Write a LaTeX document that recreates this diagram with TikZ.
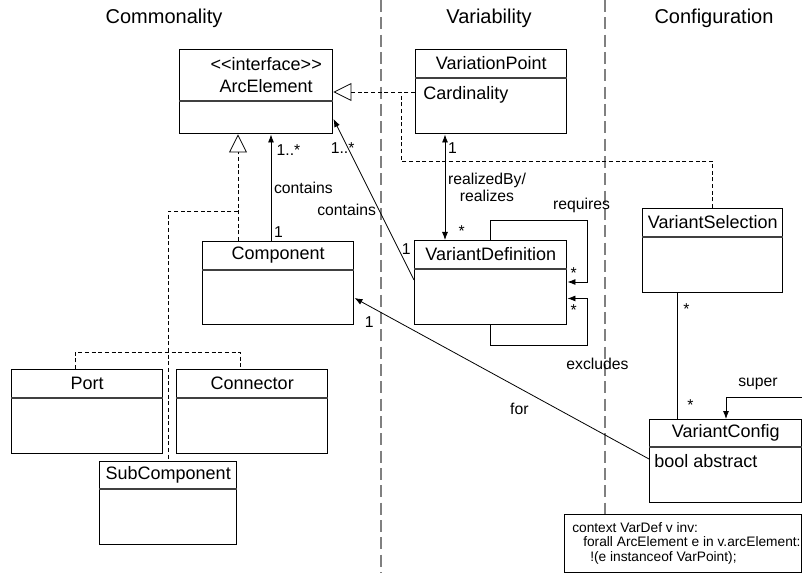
\documentclass[tikz,border=0pt]{standalone}
\usepackage{fontspec}
\setmainfont{Liberation Sans}
\usepackage{tikz}
\usetikzlibrary{arrows.meta,calc,positioning}
\def\px{0.75pt}
\newcommand{\umlclass}[7][]{%
  \node[classbox, anchor=north west, minimum width=#4*\px, minimum height=#5*\px] (#2) at (#3) {};
  \draw[classline] ($(#2.north west)+(0,#6)$) -- ($(#2.north east)+(0,#6)$);
  \node[classname, #1] (#2-name) at ($(#2.north)+(0,#6/2)$) {#7};
}
\tikzset{
  classbox/.style={draw, line width=1.1pt, inner sep=0pt, fill=white},
  classline/.style={line width=0.8pt, draw=black!75},
  classname/.style={font=\fontsize{13.5}{16.5}\selectfont, align=center, inner sep=0pt},
  attr/.style={font=\fontsize{13.5}{16.5}\selectfont, anchor=west, inner sep=0pt},
  lbl/.style={font=\fontsize{11.8}{12.75}\selectfont, inner sep=2pt},
  lanetitle/.style={font=\fontsize{15}{18}\selectfont},
  assoc/.style={draw, line width=0.6pt, -{Latex[length=6pt,width=4.5pt]}},
  link/.style={draw, line width=0.6pt},
  realize/.style={draw, line width=0.6pt, dash pattern=on 3pt off 2pt},
  realizeend/.style={realize, -{Triangle[open,length=13.5pt,width=13.5pt,line width=0.6pt]}},
  lane/.style={draw=black!50, line width=1.4pt, dash pattern=on 9pt off 4pt},
  note/.style={draw, line width=0.8pt, inner sep=0pt},
  notetext/.style={font=\fontsize{10.3}{10.9}\selectfont, align=left, inner sep=0pt}
}
\begin{document}
\begin{tikzpicture}[x=\px, y=-\px]
  \useasboundingbox (0,0) rectangle (802,573);
  % lanes
  \node[lanetitle] (commonality) at (164,18) {Commonality};
  \node[lanetitle] (variability) at (489,18) {Variability};
  \node[lanetitle] (configuration) at (714,18) {Configuration};
  % classes
  \umlclass[xshift=7.5pt]{ArcElement}{179,49}{153}{84}{52}{<\kern0pt<interface>\kern0pt>\\ArcElement}
  \umlclass{VariationPoint}{415,49}{151}{84}{29}{VariationPoint}
  \node[attr] (VariationPoint-card) at ($(VariationPoint.north west)+(8,46)$) {Cardinality};
  \umlclass{VariantDefinition}{414,240}{152}{84}{29}{VariantDefinition}
  \umlclass{Component}{202,241}{151}{83}{29}{Component}
  \umlclass{Port}{11,369}{151}{84}{29}{Port}
  \umlclass{Connector}{176,369}{151}{84}{29}{Connector}
  \umlclass{SubComponent}{99,461}{137}{83}{28}{SubComponent}
  \umlclass{VariantSelection}{642,208}{140}{84}{29}{VariantSelection}
  \umlclass{VariantConfig}{649,419}{152}{83}{28}{VariantConfig}
  \node[attr] (VariantConfig-abstract) at ($(VariantConfig.north west)+(5,42)$) {bool abstract};
  % OCL note
  \node[note, anchor=north west, minimum width=237*\px, minimum height=58*\px] (ocl) at (564,514) {};
  \node[notetext, anchor=north west] (ocl-text) at ($(ocl.north west)+(8,8)$)
    {context VarDef v inv:\\\hspace*{8.25pt}forall ArcElement e in v.arcElement:\\\hspace*{13.5pt}!(e instanceof VarPoint);};
  \coordinate (lane2) at (605,0);
  \draw[lane] (381,0) -- (381,573);
  \draw[lane] (lane2) -- (lane2 |- ocl.north);
  % realizations
  \coordinate (rc) at (238,0);
  \coordinate (rbranch) at (238,211);
  \coordinate (vsjoin) at (401,161);
  \path[realizeend] (Component.north -| rc) -- (ArcElement.south -| rc);
  \draw[realize] (rbranch) -| (SubComponent.north);
  \draw[realize] ($(Port.north)+(-12,0)$) -- ++(0,-17) -| ($(Connector.north)+(-12,0)$);
  \path[realizeend] ($(VariationPoint.north west)+(0,43)$) -- ($(ArcElement.north east)+(0,43)$);
  \draw[realize] (VariantSelection.north) |- (vsjoin) -- ++(0,-69);
  % associations
  \coordinate (cx) at (271,0);
  \coordinate (rx) at (445,0);
  \coordinate (sx) at (677,0);
  \coordinate (superin) at (802,397);
  \draw[assoc] (Component.north -| cx) -- node[lbl, right]{contains}
    node[lbl, pos=0, anchor=south west]{1}
    node[lbl, pos=1, anchor=north west, xshift=2pt, yshift=-5pt]{1..*} (ArcElement.south -| cx);
  \draw[assoc] ($(VariantDefinition.north west)+(0,40)$) -- node[lbl, pos=0.19, right]{1}
    node[lbl, pos=0.435, left]{contains}
    node[lbl, pos=0.82, xshift=-4pt]{1..*} ($(ArcElement.north east)+(0,70)$);
  \draw[assoc, {Latex[length=6pt,width=4.5pt]}-{Latex[length=6pt,width=4.5pt]}] (VariationPoint.south -| rx)
    -- node[lbl, right, align=center]{realizedBy/\\realizes}
    node[lbl, pos=0, anchor=north west, yshift=-4pt]{1}
    node[lbl, pos=1, anchor=south west, xshift=8pt]{*} (VariantDefinition.north -| rx);
  \draw[assoc] (VariantDefinition.north) |- node[lbl, pos=1, above, xshift=-4.5pt, yshift=3pt]{requires}
    ($(VariantDefinition.north east)+(20,-20)$) |- node[lbl, pos=1, anchor=south west]{*}
    ($(VariantDefinition.north east)+(0,42)$);
  \draw[assoc] (VariantDefinition.south) |- node[lbl, pos=1, anchor=north, xshift=7.5pt, yshift=-7pt]{excludes}
    ($(VariantDefinition.south east)+(20,20)$) |- node[lbl, pos=1, anchor=north west, yshift=-2pt]{*}
    ($(VariantDefinition.south east)+(0,-27)$);
  \draw[assoc] ($(VariantConfig.north west)+(0,40)$) -- node[lbl, pos=0.44, below, yshift=-9pt]{for}
    node[lbl, pos=0.95, below, yshift=-6pt]{1} ($(Component.north east)+(0,57)$);
  \draw[link] (VariantSelection.south -| sx) -- node[lbl, pos=0, anchor=north west, xshift=2.5pt, yshift=-5.5pt]{*}
    node[lbl, pos=1, anchor=south west, xshift=5.5pt, yshift=4pt]{*} (VariantConfig.north -| sx);
  \draw[assoc] (superin) -| node[lbl, pos=0.25, above, xshift=-4.5pt, yshift=3.5pt]{super}
    ($(VariantConfig.north west)+(77,0)$);
\end{tikzpicture}
\end{document}
